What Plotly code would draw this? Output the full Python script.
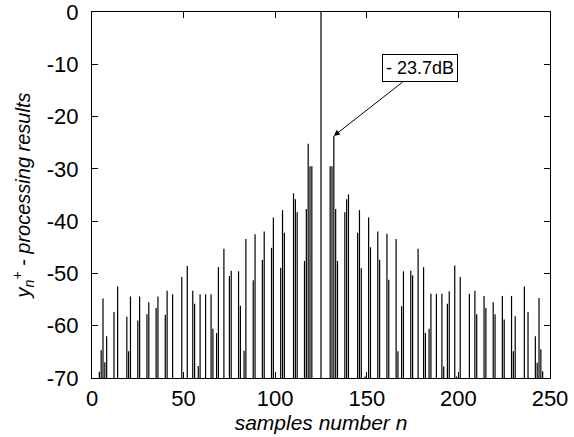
import plotly.graph_objects as go

# sample index n and level in dB (only visible samples, above -70 dB)
n_vals = [4, 5, 6, 7, 8, 12, 14, 19, 20, 21, 25, 26, 30, 31, 35, 36, 40, 41, 44,
          49, 52, 55, 56, 58, 59, 62, 65, 66, 68, 69, 72, 75, 76, 80, 81, 83, 84,
          88, 89, 93, 94, 98, 99, 103, 104, 105, 110, 111, 112, 116, 117, 118,
          119, 120, 125, 130, 131, 132, 133, 134, 138, 139, 140, 145, 146, 147,
          149, 151, 152, 156, 157, 161, 162, 166, 167, 169, 170, 174, 175, 178,
          181, 182, 184, 185, 188, 191, 192, 194, 195, 198, 199, 201, 206, 209,
          210, 214, 215, 219, 220, 224, 225, 229, 230, 231, 236, 238, 242, 243,
          244, 245, 246]
db_vals = [-68.8, -64.7, -54.8, -67.0, -62.0, -57.4, -52.5, -58.3, -64.9, -54.4,
           -59.0, -54.4, -57.8, -55.5, -56.6, -54.4, -57.9, -53.3, -54.0,
           -50.7, -48.6, -53.3, -55.8, -67.7, -54.0, -54.0, -54.0, -60.6, -61.4,
           -48.8, -45.3, -50.5, -49.5, -49.6, -56.2, -64.8, -43.4,
           -51.3, -42.5, -47.4, -42.0, -45.1, -39.3, -48.9, -37.9, -42.2,
           -34.7, -35.8, -38.3, -47.6, -37.7, -25.2,
           -29.5, -29.5, 0.0, -29.5, -29.5, -23.7, -37.7, -47.6, -38.3, -35.8,
           -34.9, -42.2, -37.9, -49.0,
           -69.7, -39.3, -45.0, -42.0, -47.4, -42.4, -51.2, -43.4, -64.9, -56.3,
           -49.6, -49.5, -50.4, -45.3,
           -48.8, -61.4, -60.6, -53.9, -53.9, -53.9, -67.8, -55.8, -53.4, -48.5,
           -69.7, -50.7, -53.9, -53.3,
           -57.8, -54.3, -56.6, -55.5, -57.8, -54.3, -58.8, -54.3, -64.9, -58.2,
           -52.5, -57.4, -62.0, -67.1,
           -54.7, -64.5, -68.7]

y_floor = -70
x_range = [0, 250]
y_range = [-70, 0]
x_ticks = [0, 50, 100, 150, 200, 250]
y_ticks = [0, -10, -20, -30, -40, -50, -60, -70]
y_tick_text = ["0", "-10", "-20", "-30", "-40", "-50", "-60", "-70"]
peak_label = "- 23.7dB"
peak_n, peak_db = 132, -23.7

xs, ys = [], []
for n, v in zip(n_vals, db_vals):
    xs += [n, n, None]
    ys += [y_floor, v, None]

FONT = "Liberation Sans, Arial, sans-serif"

fig = go.Figure()
fig.add_trace(go.Scatter(x=xs, y=ys, mode="lines",
                         line=dict(color="black", width=1.2),
                         hoverinfo="skip", showlegend=False))

fig.add_annotation(x=peak_n, y=peak_db, xref="x", yref="y",
                   text=peak_label, showarrow=True,
                   ax=179, ay=-10.8, axref="x", ayref="y",
                   arrowhead=2, arrowsize=1.2, arrowwidth=1, arrowcolor="black",
                   bordercolor="black", borderwidth=1, borderpad=3,
                   bgcolor="white",
                   font=dict(family=FONT, size=18, color="black"))

axis_common = dict(showgrid=False, zeroline=False, showline=True, linecolor="black",
                   linewidth=1, mirror="allticks", ticks="inside", ticklen=6,
                   tickcolor="black", automargin=False, ticklabeloverflow="allow",
                   tickfont=dict(family=FONT, size=22, color="black"))

fig.update_xaxes(range=x_range, tickvals=x_ticks, ticklabelstandoff=1,
                 title=dict(text="<i>samples number n</i>", standoff=0,
                            font=dict(family=FONT, size=21, color="black")),
                 **axis_common)
fig.update_yaxes(range=y_range, tickvals=y_ticks, ticktext=y_tick_text,
                 ticklabelstandoff=8,
                 title=dict(text="<i>y<sub>n</sub><sup>+</sup> - processing results</i>", standoff=10,
                            font=dict(family=FONT, size=20, color="black")),
                 **axis_common)

fig.update_layout(width=574, height=437, plot_bgcolor="white", paper_bgcolor="white",
                  margin=dict(l=92, r=24, t=12, b=59))

fig.write_html("out.html", config={"displayModeBar": False},
               post_script="document.body.style.margin='0';")
